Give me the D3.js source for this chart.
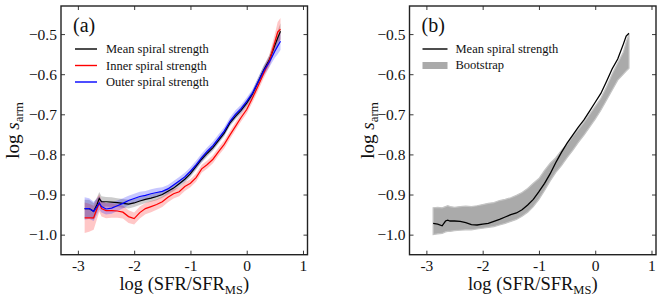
<!DOCTYPE html>
<html>
    <head>
        <meta charset="utf-8">
        <title>Spiral strength vs SFR</title>
        <script src="https://d3js.org/d3.v7.min.js"></script>
        <style>
            body { margin: 0; background: #fff; }
        </style>
    </head>
    <body>
        <div id="viz"></div>
        <script>
            // x grid (log SFR/SFR_MS), shared by all the curves
            var sfr = [-2.88, -2.8, -2.72, -2.66, -2.62, -2.58, -2.5, -2.4, -2.3, -2.2, -2.1, -2.0, -1.9, -1.8, -1.7, -1.6, -1.5, -1.4, -1.3,
                       -1.2, -1.1, -1.0, -0.9, -0.8, -0.7, -0.6, -0.5, -0.4, -0.3, -0.2, -0.1, 0.0, 0.1, 0.2, 0.3, 0.4, 0.5, 0.55, 0.6]

            // panel (a)
            var meanA = [-0.935, -0.935, -0.942, -0.925, -0.910, -0.918, -0.918, -0.919, -0.920, -0.922, -0.924, -0.921, -0.916, -0.912, -0.909, -0.905, -0.900, -0.892, -0.884,
                         -0.873, -0.862, -0.848, -0.830, -0.812, -0.797, -0.783, -0.765, -0.747, -0.722, -0.705, -0.690, -0.672, -0.650, -0.620, -0.590, -0.565, -0.528, -0.510, -0.493]
            var meanErr = [0.022, 0.022, 0.020, 0.018, 0.016, 0.014, 0.012, 0.012, 0.011, 0.011, 0.011, 0.010, 0.010, 0.009, 0.009, 0.009, 0.008, 0.008, 0.008,
                           0.008, 0.008, 0.008, 0.008, 0.008, 0.008, 0.008, 0.008, 0.008, 0.008, 0.008, 0.008, 0.008, 0.009, 0.010, 0.011, 0.012, 0.015, 0.018, 0.02]
            var innerA = [-0.958, -0.958, -0.958, -0.935, -0.921, -0.935, -0.940, -0.940, -0.941, -0.944, -0.955, -0.960, -0.945, -0.935, -0.930, -0.925, -0.918, -0.907, -0.898,
                          -0.893, -0.880, -0.872, -0.858, -0.836, -0.825, -0.812, -0.793, -0.775, -0.752, -0.730, -0.708, -0.688, -0.660, -0.630, -0.598, -0.568, -0.520, -0.495, -0.488]
            var innerErr = [0.038, 0.035, 0.030, 0.026, 0.022, 0.020, 0.019, 0.018, 0.017, 0.016, 0.016, 0.015, 0.015, 0.014, 0.014, 0.013, 0.013, 0.012, 0.012,
                            0.011, 0.011, 0.010, 0.010, 0.010, 0.010, 0.010, 0.010, 0.010, 0.010, 0.010, 0.010, 0.010, 0.011, 0.012, 0.013, 0.015, 0.020, 0.025, 0.028]
            var outerA = [-0.935, -0.935, -0.942, -0.930, -0.921, -0.930, -0.936, -0.934, -0.928, -0.922, -0.915, -0.910, -0.905, -0.902, -0.898, -0.895, -0.892, -0.886, -0.876,
                          -0.866, -0.856, -0.842, -0.826, -0.808, -0.792, -0.778, -0.760, -0.742, -0.718, -0.700, -0.686, -0.668, -0.648, -0.620, -0.592, -0.570, -0.543, -0.530, -0.518]
            var outerErr = [0.028, 0.026, 0.024, 0.020, 0.017, 0.015, 0.014, 0.014, 0.013, 0.013, 0.012, 0.012, 0.012, 0.011, 0.011, 0.011, 0.010, 0.010, 0.010,
                            0.010, 0.010, 0.010, 0.010, 0.010, 0.010, 0.010, 0.010, 0.010, 0.010, 0.010, 0.010, 0.010, 0.010, 0.011, 0.012, 0.013, 0.016, 0.020, 0.022]

            // panel (b)
            var meanB = [-0.972, -0.974, -0.978, -0.966, -0.964, -0.966, -0.966, -0.967, -0.970, -0.975, -0.976, -0.974, -0.972, -0.967, -0.962, -0.956, -0.950, -0.946, -0.938,
                         -0.926, -0.912, -0.893, -0.872, -0.848, -0.820, -0.795, -0.772, -0.752, -0.732, -0.714, -0.692, -0.670, -0.648, -0.618, -0.587, -0.562, -0.525, -0.505, -0.498]
            var bootHigh = [-0.933, -0.932, -0.933, -0.930, -0.928, -0.930, -0.932, -0.930, -0.929, -0.930, -0.928, -0.925, -0.922, -0.920, -0.915, -0.912, -0.908, -0.902, -0.895,
                            -0.885, -0.872, -0.860, -0.840, -0.822, -0.808, -0.790, -0.775, -0.755, -0.738, -0.720, -0.700, -0.680, -0.660, -0.632, -0.600, -0.572, -0.545, -0.520, -0.500]
            var bootLow = [-1.000, -0.998, -0.997, -0.993, -0.992, -0.992, -0.990, -0.989, -0.988, -0.988, -0.986, -0.984, -0.982, -0.980, -0.976, -0.972, -0.967, -0.962, -0.954,
                           -0.944, -0.930, -0.912, -0.890, -0.866, -0.845, -0.828, -0.808, -0.790, -0.770, -0.752, -0.732, -0.712, -0.690, -0.665, -0.640, -0.615, -0.600, -0.592, -0.585]

            // ticks
            var xTicks = [-3, -2, -1, 0, 1]
            var xTickLabels = ["-3", "-2", "-1", "0", "1"]
            var yTicks = [-1.0, -0.9, -0.8, -0.7, -0.6, -0.5]
            var yTickLabels = ["\u22121.0", "\u22120.9", "\u22120.8", "\u22120.7", "\u22120.6", "\u22120.5"]

            var W = 664, H = 304
            var marginTop = 6, height = 248.7, width = 246.5
            var serif = "'Liberation Serif', 'Times New Roman', 'DejaVu Serif', serif"

            var svg = d3.select("#viz")
                .append("svg")
                    .attr("width", W)
                    .attr("height", H)
                    .attr("font-family", serif)

            var y = d3.scaleLinear()
                .domain([-1.05, -0.43])
                .range([height, 0])

            // draws frame, inward ticks on all sides and labels, returns the panel group and x scale
            function makePanel(left, tag, ylabX) {
                var g = svg.append("g")
                    .attr("transform", "translate(" + left + "," + marginTop + ")")
                var x = d3.scaleLinear()
                    .domain([-3.3, 1.08])
                    .range([0, width])

                g.append("g").attr("transform", "translate(0," + height + ")")
                    .call(d3.axisBottom(x).tickValues(xTicks).tickSize(-4).tickPadding(5)
                        .tickFormat(function (d, i) { return xTickLabels[i] }))
                g.append("g")
                    .call(d3.axisTop(x).tickValues(xTicks).tickSize(-4).tickFormat(""))
                g.append("g")
                    .call(d3.axisLeft(y).tickValues(yTicks).tickSize(-4).tickPadding(4)
                        .tickFormat(function (d, i) { return yTickLabels[i] }))
                g.append("g").attr("transform", "translate(" + width + ",0)")
                    .call(d3.axisRight(y).tickValues(yTicks).tickSize(-4).tickFormat(""))
                g.selectAll(".domain").remove()
                g.selectAll("g").attr("font-family", serif)
                g.selectAll(".tick line").attr("stroke", "#222").attr("stroke-width", 0.9)
                g.selectAll(".tick text")
                    .attr("font-size", 15.5)
                    .attr("fill", "#111")

                // x label
                var xl = g.append("text")
                    .attr("x", width / 2)
                    .attr("y", height + 35)
                    .attr("font-family", serif)
                    .attr("text-anchor", "middle")
                    .attr("font-size", 18.5)
                    .attr("fill", "#111")
                xl.append("tspan").text("log (SFR/SFR")
                xl.append("tspan").attr("dy", 4).attr("font-size", 12.5).text("MS")
                xl.append("tspan").attr("dy", -4).text(")")

                // y label
                var yl = g.append("text")
                    .attr("transform", "translate(" + (ylabX - left) + "," + (height / 2) + ") rotate(-90)")
                    .attr("font-family", serif)
                    .attr("text-anchor", "middle")
                    .attr("font-size", 19)
                    .attr("fill", "#111")
                yl.append("tspan").text("log ")
                yl.append("tspan").attr("font-style", "italic").text("s")
                yl.append("tspan").attr("dy", 4).attr("font-size", 13).text("arm")

                // panel tag
                g.append("text")
                    .attr("x", 12)
                    .attr("y", 26)
                    .attr("font-family", serif)
                    .attr("font-size", 20)
                    .attr("fill", "#111")
                    .text(tag)

                return {g: g, x: x}
            }

            function band(x, mid, err) {
                return d3.area()
                    .x(function (d, i) { return x(sfr[i]) })
                    .y0(function (d, i) { return y(mid[i] - err[i]) })
                    .y1(function (d, i) { return y(mid[i] + err[i]) })(sfr)
            }
            function line(x, vals) {
                return d3.line()
                    .x(function (d, i) { return x(sfr[i]) })
                    .y(function (d, i) { return y(vals[i]) })(sfr)
            }
            function legendText(g, tx, ty, label) {
                g.append("text").attr("x", tx).attr("y", ty)
                    .attr("font-family", serif).attr("font-size", 12.5).attr("fill", "#111")
                    .text(label)
            }

            // ---- panel (a)
            var pa = makePanel(61, "(a)", 19)
            pa.g.append("path").attr("d", band(pa.x, meanA, meanErr)).attr("fill", "#000").attr("fill-opacity", 0.2)
            pa.g.append("path").attr("d", band(pa.x, innerA, innerErr)).attr("fill", "#ff0000").attr("fill-opacity", 0.22)
            pa.g.append("path").attr("d", band(pa.x, outerA, outerErr)).attr("fill", "#0000ff").attr("fill-opacity", 0.22)
            pa.g.append("path").attr("d", line(pa.x, meanA)).attr("fill", "none").attr("stroke", "#000").attr("stroke-width", 1.2)
            pa.g.append("path").attr("d", line(pa.x, innerA)).attr("fill", "none").attr("stroke", "#ff0000").attr("stroke-width", 1.2)
            pa.g.append("path").attr("d", line(pa.x, outerA)).attr("fill", "none").attr("stroke", "#0000ff").attr("stroke-width", 1.2)

            var legA = [["Mean spiral strength", "#000"], ["Inner spiral strength", "#ff0000"], ["Outer spiral strength", "#0000ff"]]
            legA.forEach(function (d, i) {
                var ly = 43 + i * 16.5
                pa.g.append("line").attr("x1", 14).attr("x2", 36).attr("y1", ly).attr("y2", ly)
                    .attr("stroke", d[1]).attr("stroke-width", 1.4)
                legendText(pa.g, 45, ly + 4, d[0])
            })

            // ---- panel (b)
            var pb = makePanel(409.5, "(b)", 374)
            var bootArea = d3.area()
                .x(function (d, i) { return pb.x(sfr[i]) })
                .y0(function (d, i) { return y(bootLow[i]) })
                .y1(function (d, i) { return y(bootHigh[i]) })
            pb.g.append("path").attr("d", bootArea(sfr)).attr("fill", "#aaaaaa")
                .attr("stroke", "#c4c4c4").attr("stroke-width", 1.2)
            pb.g.append("path").attr("d", line(pb.x, meanB)).attr("fill", "none").attr("stroke", "#000").attr("stroke-width", 1.3)

            pb.g.append("line").attr("x1", 13).attr("x2", 38).attr("y1", 43).attr("y2", 43)
                .attr("stroke", "#000").attr("stroke-width", 1.4)
            legendText(pb.g, 46, 47, "Mean spiral strength")
            pb.g.append("rect").attr("x", 13).attr("y", 56).attr("width", 25).attr("height", 7).attr("fill", "#aaaaaa")
            legendText(pb.g, 46, 63, "Bootstrap")

            // frames on top
            ;[pa, pb].forEach(function (p) {
                p.g.append("rect").attr("width", width).attr("height", height)
                    .attr("fill", "none").attr("stroke", "#222").attr("stroke-width", 1.4)
            })
        </script>
    </body>
</html>
